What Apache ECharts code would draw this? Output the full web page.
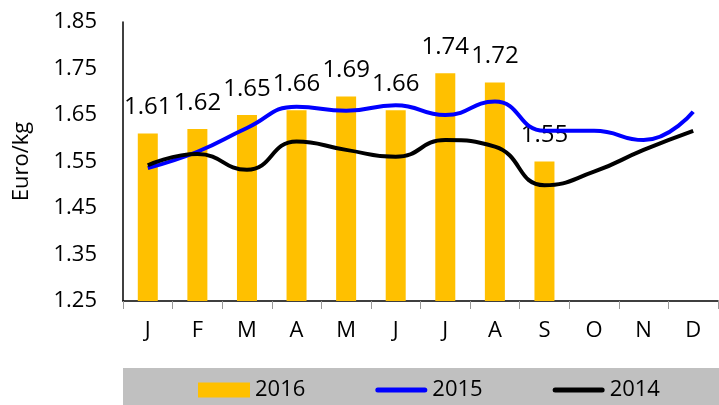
<!DOCTYPE html>
<html>
<head>
<meta charset="utf-8">
<script src="https://cdn.jsdelivr.net/npm/echarts@6/dist/echarts.min.js"></script>
<style>
  html, body { margin: 0; padding: 0; background: #fff; }
  #chart { width: 719px; height: 405px; }
</style>
</head>
<body>
<div id="chart"></div>
<script>
const months = ['J', 'F', 'M', 'A', 'M', 'J', 'J', 'A', 'S', 'O', 'N', 'D']
const sales2016 = [1.61, 1.62, 1.65, 1.66, 1.69, 1.66, 1.74, 1.72, 1.55]
const sales2015 = [1.536, 1.571, 1.622, 1.668, 1.659, 1.671, 1.65, 1.679, 1.616, 1.616, 1.596, 1.657]
const sales2014 = [1.542, 1.566, 1.532, 1.593, 1.575, 1.56, 1.596, 1.582, 1.499, 1.528, 1.575, 1.616]

const font = '"Open Sans", "Noto Sans", sans-serif'
const lineIcon = 'path://M2.5,0 L49.5,0 A2.5,2.5 0 0 1 49.5,5 L2.5,5 A2.5,2.5 0 0 1 2.5,0 Z'
const myChart = echarts.init(document.getElementById('chart'))

const option = {
  animation: false,
  textStyle: { fontFamily: font },
  grid: { left: 123, right: 1, top: 22, bottom: 104 },
  // grey band behind the legend
  graphic: [
    {
      type: 'rect',
      left: 123,
      top: 368,
      z: -1,
      shape: { width: 596, height: 37 },
      style: { fill: '#C0C0C0' }
    }
  ],
  legend: {
    left: 193,
    top: 374,
    itemWidth: 52,
    itemHeight: 15,
    itemGap: 70,
    textStyle: { fontSize: 22, color: '#000', fontFamily: font },
    data: [
      { name: '2016', icon: 'rect' },
      { name: '2015', icon: lineIcon },
      { name: '2014', icon: lineIcon }
    ]
  },
  xAxis: {
    type: 'category',
    data: months,
    axisLine: { lineStyle: { color: '#000', width: 1.5 } },
    axisTick: { show: true, length: 8, lineStyle: { color: '#999' } },
    axisLabel: { color: '#000', fontSize: 22, margin: 19, fontFamily: font }
  },
  yAxis: {
    type: 'value',
    min: 1.25,
    max: 1.85,
    interval: 0.1,
    name: 'Euro/kg',
    nameLocation: 'middle',
    nameGap: 90,
    nameRotate: 90,
    nameTextStyle: { color: '#000', fontSize: 22, fontFamily: font },
    splitLine: { show: false },
    axisTick: { show: false },
    axisLine: { show: true, lineStyle: { color: '#000', width: 1.5 } },
    axisLabel: {
      color: '#000',
      fontSize: 22,
      margin: 26,
      fontFamily: font,
      formatter: (v) => v.toFixed(2)
    }
  },
  series: [
    {
      name: '2016',
      type: 'bar',
      data: sales2016,
      barWidth: 20,
      itemStyle: { color: '#FFC000' },
      label: {
        show: true,
        position: 'top',
        distance: 14,
        color: '#000',
        fontSize: 24,
        fontFamily: font,
        formatter: (p) => p.value.toFixed(2)
      }
    },
    {
      name: '2015',
      type: 'line',
      data: sales2015,
      smooth: 0.5,
      symbol: 'none',
      lineStyle: { color: '#0000FF', width: 4 },
      itemStyle: { color: '#0000FF' }
    },
    {
      name: '2014',
      type: 'line',
      data: sales2014,
      smooth: 0.5,
      symbol: 'none',
      lineStyle: { color: '#000', width: 4 },
      itemStyle: { color: '#000' }
    }
  ]
}
myChart.setOption(option)
</script>
</body>
</html>
